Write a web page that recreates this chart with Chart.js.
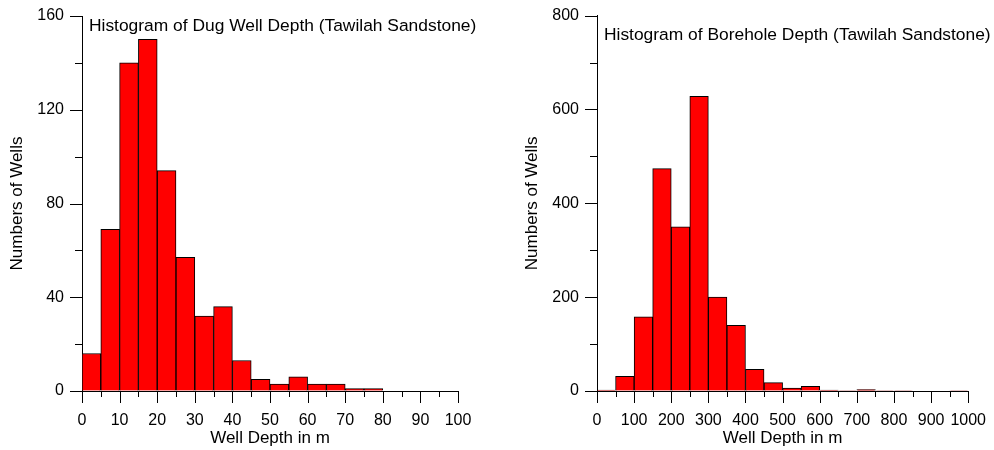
<!DOCTYPE html>
<html lang="en">
<head>
<meta charset="UTF-8">
<title>Histograms of Well Depth (Tawilah Sandstone)</title>
<script src="https://cdn.jsdelivr.net/npm/chart.js"></script>
<style>
  html, body { margin: 0; padding: 0; background: #fff; }
  body { width: 994px; height: 450px; position: relative; overflow: hidden; font-family: "Liberation Sans", Arial, sans-serif; }
  canvas { position: absolute; top: 0; }
  #dug { left: 0; }
  #bore { left: 515px; }
  .titulo { position: absolute; font-size: 17.4px; line-height: 17px; color: #000; white-space: nowrap; }
</style>
</head>
<body>
<canvas id="dug" width="497" height="450"></canvas>
<canvas id="bore" width="479" height="450"></canvas>
<div class="titulo" style="left:89px; top:17px;">Histogram of Dug Well Depth (Tawilah Sandstone)</div>
<div class="titulo" style="left:604px; top:26px;">Histogram of Borehole Depth (Tawilah Sandstone)</div>

<script>
// bins (left edge, m) and counts
const dugBins = [0, 5, 10, 15, 20, 25, 30, 35, 40, 45, 50, 55, 60, 65, 70, 75, 80, 85, 90, 95];
const dugCounts = [16, 69, 140, 150, 94, 57, 32, 36, 13, 5, 3, 6, 3, 3, 1, 1, 0, 0, 0, 0];
const dugBinWidth = 5;

const boreBins = [0, 50, 100, 150, 200, 250, 300, 350, 400, 450, 500, 550, 600, 650, 700, 750, 800, 850, 900, 950];
const boreCounts = [2, 31, 158, 474, 350, 628, 200, 140, 46, 18, 6, 10, 2, 1, 3, 1, 1, 0, 0, 1];
const boreBinWidth = 50;

const xTitle = 'Well Depth in m';
const yTitle = 'Numbers of Wells';

Chart.defaults.font.family = '"Liberation Sans", Arial, sans-serif';
Chart.defaults.font.size = 16;
Chart.defaults.color = '#000';

// tick marks (long on labelled values, short in between), drawn through the scales
const marcasEje = {
    id: 'marcasEje',
    afterDraw(chart, args, opts) {
        const { ctx, scales: { x, y } } = chart;
        ctx.save();
        ctx.strokeStyle = '#000';
        ctx.lineWidth = 1;
        ctx.beginPath();
        for (let i = 0; i * opts.xStep <= x.max; i++) {
            const px = Math.round(x.getPixelForValue(i * opts.xStep)) + 0.5;
            ctx.moveTo(px, x.top);
            ctx.lineTo(px, x.top + (i % 2 === 0 ? 12 : 6));
        }
        for (let i = 0; i * opts.yStep <= y.max; i++) {
            const py = Math.round(y.getPixelForValue(i * opts.yStep)) + 0.5;
            ctx.moveTo(y.right, py);
            ctx.lineTo(y.right - (i % 2 === 0 ? 12 : 7), py);
        }
        ctx.stroke();
        ctx.restore();
    }
};

function crearHistograma(id, bins, counts, binWidth, xMax, xStep, yMax, yStep, padding) {
    const puntos = bins.map((b, i) => ({ x: b + binWidth / 2, y: counts[i] }));
    return new Chart(document.getElementById(id), {
        type: 'bar',
        data: {
            datasets: [{
                data: puntos,
                backgroundColor: '#ff0000',
                borderColor: '#000',
                borderWidth: 1,
                barPercentage: 1,
                categoryPercentage: 1
            }]
        },
        options: {
            responsive: false,
            animation: false,
            layout: { padding: padding },
            plugins: {
                legend: { display: false },
                tooltip: { enabled: false },
                marcasEje: { xStep: xStep / 2, yStep: yStep / 2 }
            },
            scales: {
                x: {
                    type: 'linear',
                    min: 0,
                    max: xMax,
                    offset: false,
                    afterFit: (s) => { s.height = 59; },
                    border: { display: true, color: '#000', width: 1 },
                    grid: { drawOnChartArea: false, drawTicks: true, tickLength: 12, tickColor: 'rgba(0,0,0,0)' },
                    ticks: { stepSize: xStep, padding: 8, maxRotation: 0, autoSkip: false, callback: (v) => String(v) },
                    title: { display: true, text: xTitle, font: { size: 17 }, padding: { top: 0, bottom: 1 } }
                },
                y: {
                    min: 0,
                    max: yMax,
                    afterFit: (s) => { s.width = 82; },
                    border: { display: true, color: '#000', width: 1 },
                    grid: { drawOnChartArea: false, drawTicks: true, tickLength: 12, tickColor: 'rgba(0,0,0,0)' },
                    ticks: { stepSize: yStep, padding: 6, callback: (v) => String(v) },
                    title: { display: true, text: yTitle, font: { size: 17 }, padding: { top: 7, bottom: 0 } }
                }
            }
        },
        plugins: [marcasEje]
    });
}

crearHistograma('dug', dugBins, dugCounts, dugBinWidth, 100, 10, 160, 40, { top: 16, right: 39, left: 0, bottom: 0 });
crearHistograma('bore', boreBins, boreCounts, boreBinWidth, 1000, 100, 800, 200, { top: 15, right: 21, left: 0, bottom: 0 });
</script>
</body>
</html>
